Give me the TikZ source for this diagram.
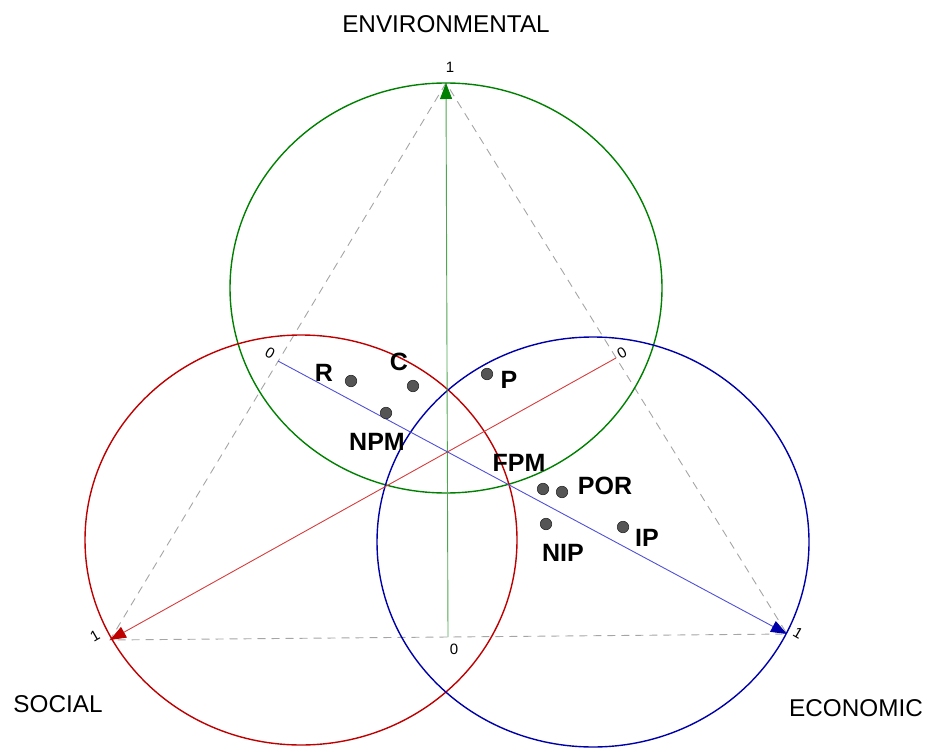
\documentclass[tikz,border=0pt]{standalone}
\usepackage{fontspec}
\setmainfont{Liberation Sans}
\usetikzlibrary{arrows.meta}

\definecolor{envgreen}{RGB}{0,128,0}
\definecolor{envaxis}{RGB}{80,165,80}
\definecolor{socred}{RGB}{190,0,0}
\definecolor{socaxis}{RGB}{215,60,60}
\definecolor{ecoblue}{RGB}{0,0,170}
\definecolor{ecoaxis}{RGB}{80,80,215}
\definecolor{dotgray}{RGB}{85,85,85}

\begin{document}
\begin{tikzpicture}
        [x=1pt, y=-1pt,
         ring/.style={line width=1.4pt},
         axis/.style={line width=0.9pt},
         guide/.style={draw={rgb,255:red,165;green,165;blue,165}, line width=0.9pt, dash pattern=on 8pt off 6pt},
         dot/.style={circle, draw={rgb,255:red,40;green,40;blue,40}, fill=dotgray, line width=0.6pt, minimum size=11.5pt, inner sep=0pt},
         pt/.style={font=\fontsize{25}{28}\bfseries\selectfont, inner sep=0pt},
         tick/.style={font=\fontsize{15}{17}\selectfont, inner sep=0pt},
         dim/.style={font=\fontsize{24.3}{27}\selectfont, inner sep=0pt}]
        \useasboundingbox (0,0) rectangle (934,754);
        % corners of the triangle and the middles of its sides
        \coordinate (env) at (446,83);
        \coordinate (soc) at (110,640);
        \coordinate (eco) at (787,634);
        \coordinate (mEnvEco) at (616,358);
        \coordinate (mEnvSoc) at (278,361);
        \coordinate (mSocEco) at (448,637);
        \draw[guide] (env) -- (soc) -- (eco) -- cycle;
        % the three circles
        \draw[ring, envgreen] (446,288) ellipse [x radius=216, y radius=205];
        \draw[ring, socred] (301,540) ellipse [x radius=216, y radius=205];
        \draw[ring, ecoblue] (593,542) ellipse [x radius=216, y radius=205];
        % axes
        \draw[axis, envaxis, -{Triangle[length=16pt,width=12pt,color=envgreen]}] (mSocEco) -- (env);
        \draw[axis, socaxis, -{Triangle[length=16pt,width=12pt,color=socred]}] (mEnvEco) -- (soc);
        \draw[axis, ecoaxis, -{Triangle[length=16pt,width=12pt,color=ecoblue]}] (mEnvSoc) -- (eco);
        % scale marks
        \node[tick] (t1) at (450,67) {1};
        \node[tick, rotate=30] (t2) at (95,636) {1};
        \node[tick, rotate=-30] (t3) at (798,633) {1};
        \node[tick] (t4) at (454,649) {0};
        \node[tick, rotate=-30] (t5) at (270,353) {0};
        \node[tick, rotate=30] (t6) at (622,353) {0};
        % dimension names
        \node[dim] (envname) at (446,24) {ENVIRONMENTAL};
        \node[dim] (socname) at (58,704) {SOCIAL};
        \node[dim] (econame) at (856,708) {ECONOMIC};
        % cases
        \foreach \n/\dx/\dy/\lx/\ly in {R/351/381/324/373, C/413/386/399/362, P/487/374/509/380,
                                       NPM/386/413/377/442, FPM/543/489/519/463, POR/562/492/605/486,
                                       NIP/546/524/563/553, IP/623/527/647/538}
          \path node[dot] (d\n) at (\dx,\dy) {}
                node[pt] (l\n) at (\lx,\ly) {\n};
      \end{tikzpicture}
\end{document}
